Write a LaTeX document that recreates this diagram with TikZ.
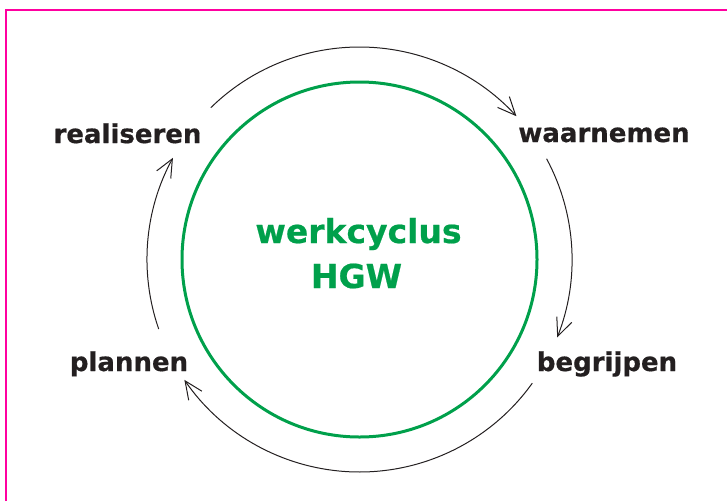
\documentclass[tikz,border=0pt]{standalone}
\usepackage{fontspec}
\setmainfont{DejaVu Sans}[BoldFeatures={FakeBold=0.6}]
\usepackage{xcolor}
\usepackage{tikz}
\usetikzlibrary{arrows.meta, positioning, calc}
\definecolor{hgwgreen}{RGB}{0, 160, 75}
\definecolor{hgwink}{RGB}{35, 31, 32}
\definecolor{hgwframe}{RGB}{255, 0, 160}

\begin{document}
\begin{tikzpicture}[x=1pt, y=-1pt,
		phase/.style={font=\fontsize{26}{30}\selectfont\bfseries, text=hgwink, anchor=base, inner sep=0pt},
		title/.style={font=\fontsize{33}{40}\selectfont\bfseries, text=hgwgreen, anchor=base, inner sep=0pt},
		cyclearrow/.style={hgwink, line width=1pt, -{Straight Barb[length=18pt, width=16pt]}}]
			\useasboundingbox (0,0) rectangle (727,501);

			% Frame (cut off at right and bottom)
			\draw[hgwframe, line width=1.8pt] (6,501) -- (6,10) -- (727,10);

			% Centre of the cycle
			\coordinate (c) at (359.5,259.5);

			% Inner green circle
			\draw[hgwgreen, line width=3pt] (c) circle (177.5);

			% Titles
			\node[title] (title) at (358.5,243) {werkcyclus};
			\node[title] (sub) at (356.5,288) {HGW};

			% The four phases
			\node[phase] (realiseren) at (127.5,143) {realiseren};
			\node[phase] (waarnemen) at (604,142) {waarnemen};
			\node[phase] (begrijpen) at (607,371) {begrijpen};
			\node[phase] (plannen) at (129,371) {plannen};

			% Outer arrows (angles measured with y upward)
			\draw[cyclearrow] ([shift={(-134.4:212.5)}]c) arc[start angle=-134.4, end angle=-42.4, radius=212.5];
			\draw[cyclearrow] ([shift={(-28.3:212.5)}]c) arc[start angle=-28.3, end angle=21.5, radius=212.5];
			\draw[cyclearrow] ([shift={(35.6:212.5)}]c) arc[start angle=35.6, end angle=145.5, radius=212.5];
			\draw[cyclearrow] ([shift={(160.9:212.5)}]c) arc[start angle=160.9, end angle=208.6, radius=212.5];

		\end{tikzpicture}
\end{document}
